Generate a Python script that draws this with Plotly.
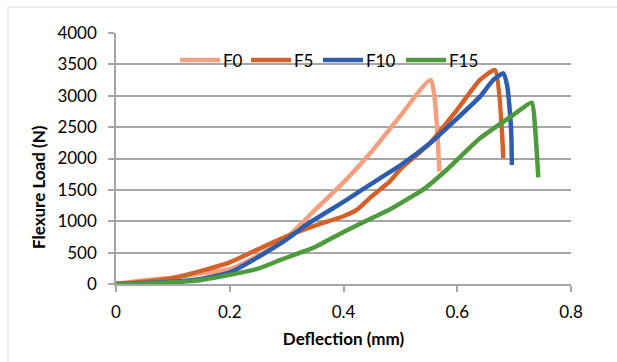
import plotly.graph_objects as go

# Data
f0_x = [0, 0.05, 0.1, 0.15, 0.2, 0.25, 0.3, 0.33, 0.35, 0.4, 0.45, 0.5, 0.5533, 0.5685]
f0_y = [0, 60, 98, 170, 235, 455, 735, 1000, 1180, 1620, 2115, 2680, 3252, 1790]

f5_x = [0, 0.05, 0.1, 0.15, 0.2, 0.25, 0.3, 0.35, 0.4, 0.423, 0.45, 0.482, 0.5, 0.552, 0.6, 0.64, 0.6664, 0.681]
f5_y = [0, 35, 96, 210, 345, 555, 760, 930, 1080, 1180, 1400, 1640, 1830, 2243, 2780, 3252, 3411, 2003]

f10_x = [0, 0.05, 0.1, 0.15, 0.2, 0.25, 0.3, 0.335, 0.4, 0.464, 0.5, 0.552, 0.6, 0.64, 0.6634, 0.681, 0.688, 0.692, 0.695, 0.696]
f10_y = [0, 15, 37, 80, 185, 430, 710, 945, 1310, 1685, 1890, 2243, 2640, 2986, 3252, 3358, 3150, 2800, 2400, 1897]

f15_x = [0, 0.05, 0.1, 0.15, 0.2, 0.25, 0.288, 0.35, 0.4, 0.45, 0.482, 0.543, 0.581, 0.64, 0.6986, 0.731, 0.7367, 0.7425]
f15_y = [0, 8, 27, 64, 145, 245, 380, 590, 830, 1050, 1190, 1525, 1817, 2322, 2694, 2890, 2507, 1701]

series_names = ["F0", "F5", "F10", "F15"]
series_x = [f0_x, f5_x, f10_x, f15_x]
series_y = [f0_y, f5_y, f10_y, f15_y]
series_colors = ["#F2A07F", "#D5612A", "#2E5DAE", "#4E9B3D"]

x_ticks = [0, 0.2, 0.4, 0.6, 0.8]
y_ticks = [0, 500, 1000, 1500, 2000, 2500, 3000, 3500, 4000]

W, H = 617, 362
ML, MR, MT, MB = 116, 46, 33, 78
PW, PH = W - ML - MR, H - MT - MB


def px_to_paper_x(px):
    return (px - ML) / PW


def px_to_paper_y(py):
    return (H - MB - py) / PH


fig = go.Figure()
for name, xs, ys, col in zip(series_names, series_x, series_y, series_colors):
    fig.add_trace(go.Scatter(x=xs, y=ys, mode="lines", name=name, showlegend=False,
                             line=dict(color=col, width=4.5, shape="spline", smoothing=0.5)))

font_family = "Lato, 'Open Sans', sans-serif"
grid_col = "#A6A6A6"

# Legend (horizontal, inside top of plot) built from shapes + text
legend_line_start = [179, 250, 322, 405]
legend_line_len = 41
legend_y = px_to_paper_y(60)
shapes = [dict(type="rect", xref="paper", yref="paper",
               x0=px_to_paper_x(8), x1=1.3, y0=-0.5, y1=px_to_paper_y(7),
               line=dict(color="#D9D9D9", width=1), fillcolor="rgba(0,0,0,0)", layer="below")]
annotations = [dict(text="<b>Flexure Load (N)</b>", textangle=-90, xref="paper", yref="paper",
                    x=px_to_paper_x(38), y=px_to_paper_y(187), xanchor="center", yanchor="middle",
                    showarrow=False, font=dict(size=17))]
for name, col, sx in zip(series_names, series_colors, legend_line_start):
    shapes.append(dict(type="line", xref="paper", yref="paper",
                       x0=px_to_paper_x(sx + 1), x1=px_to_paper_x(sx + legend_line_len),
                       y0=legend_y, y1=legend_y, line=dict(color=col, width=4.5)))
    annotations.append(dict(text=name, xref="paper", yref="paper",
                            x=px_to_paper_x(sx + legend_line_len + 2), y=legend_y,
                            xanchor="left", yanchor="middle", showarrow=False,
                            font=dict(size=17), xshift=-1))

fig.update_layout(
    width=W, height=H,
    margin=dict(l=ML, r=MR, t=MT, b=MB),
    paper_bgcolor="white", plot_bgcolor="white",
    font=dict(family=font_family, size=17, color="#000000"),
    showlegend=False,
    xaxis=dict(range=[0, 0.8], tickvals=x_ticks, ticktext=[str(v) for v in x_ticks],
               showgrid=False, zeroline=False, showline=True, linecolor=grid_col, linewidth=1.5,
               ticks="outside", ticklen=6, tickcolor=grid_col, tickwidth=1.5,
               ticklabelstandoff=6,
               title=dict(text="<b>Deflection (mm)</b>", font=dict(size=17), standoff=12)),
    yaxis=dict(range=[0, 4000], tickvals=y_ticks, ticktext=[str(v) for v in y_ticks],
               showgrid=True, gridcolor=grid_col, gridwidth=1.5, zeroline=False,
               showline=True, linecolor=grid_col, linewidth=1.5,
               ticks="outside", ticklen=6, tickcolor=grid_col, tickwidth=1.5,
               ticklabelstandoff=8),
    annotations=annotations,
    shapes=shapes,
)

fig.write_html("out.html")
